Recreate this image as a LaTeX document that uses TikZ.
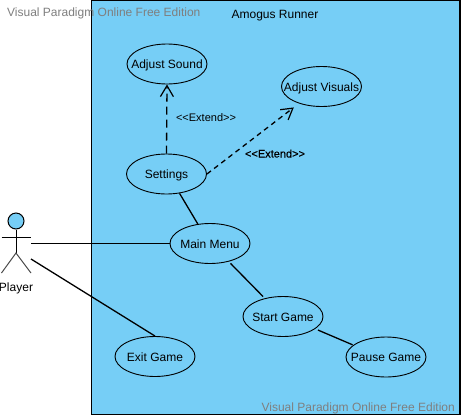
\documentclass[tikz,border=0pt]{standalone}
\usepackage{fontspec}
\setmainfont{Liberation Sans}
\newfontfamily\heavyfont[FakeBold=0.6]{Liberation Sans}
\usetikzlibrary{shapes.geometric,arrows.meta}
\definecolor{sysblue}{HTML}{76CEF6}
\definecolor{wmgray}{HTML}{7F7F7F}
\tikzset{
  usecase/.style={ellipse,draw=black,line width=0.9pt,fill=sysblue,minimum width=80pt,minimum height=40pt,inner sep=-30pt,text height=9pt,text depth=0pt,font=\fontsize{12}{14}\selectfont},
  plainlabel/.style={inner sep=0pt,text height=9pt,text depth=0pt,font=\fontsize{12}{14}\selectfont},
  assoc/.style={draw=black,line width=1.3pt},
  extendline/.style={draw=black,line width=1.3pt,-{Straight Barb[length=11pt,width=13pt,line width=1.2pt]}},
  stereo/.style={font=\fontsize{11}{13}\selectfont,inner sep=0pt,text height=8pt,text depth=0pt},
  watermark/.style={font=\fontsize{12}{14}\selectfont,text=wmgray,inner sep=0pt,text height=9pt,text depth=0pt},
  actorline/.style={draw=black,line width=1pt}
}
\begin{document}
\begin{tikzpicture}[x=1pt,y=-1pt]
\useasboundingbox (0,0) rectangle (461,416);
\fill[white] (0,0) rectangle (461,416);
\draw[black,line width=1.1pt,fill=sysblue] (91.5,0.5) rectangle (460,414.5);
\node[plainlabel] (title) at (275,13.8) {Amogus Runner};
\node[usecase] (sound) at (167,64) {Adjust Sound};
\node[usecase] (visuals) at (321.5,86.5) {Adjust Visuals};
\node[usecase] (settings) at (166.5,174) {Settings};
\node[usecase] (mainmenu) at (210,243.5) {Main Menu};
\node[usecase] (start) at (283,316.5) {Start Game};
\node[usecase] (pause) at (386,357) {Pause Game};
\node[usecase] (exit) at (155,356.5) {Exit Game};
% actor
\node[circle,draw=black,line width=1pt,fill=sysblue,minimum size=16pt,inner sep=0pt] (head) at (16,221) {};
\coordinate (hip) at (16,253);
\coordinate (armL) at (1.5,237);
\coordinate (armR) at (31,237);
\coordinate (legL) at (1.5,273);
\coordinate (legR) at (31,273);
\coordinate (playerA) at (31,243.5);
\coordinate (playerB) at (31,259);
\draw[actorline] (head.south) -- (hip);
\draw[actorline] (armL) -- (armR);
\draw[actorline,draw=black!70] (legL) -- (hip) -- (legR);
\node[plainlabel] (player) at (16,287.3) {Player};
% associations
\draw[assoc] (playerA) -- (mainmenu.west);
\draw[assoc] (playerB) -- (exit.north);
\draw[assoc] (settings.-56) -- (mainmenu.122);
\draw[assoc,shorten <=2.4pt,shorten >=2.4pt] (mainmenu.-44.3) -- (start.135.7);
\draw[assoc,shorten <=3pt,shorten >=0.7pt] (start.-21.7) -- (pause.160);
% extends
\draw[extendline,dash pattern=on 8pt off 5pt] (settings.north) -- (sound.south);
\draw[extendline,dash pattern=on 5pt off 4pt,shorten >=6.5pt] (settings.east) -- (visuals.-143.3);
\node[stereo] (ext1) at (206,117) {<{}<Extend>{}>};
\node[stereo] (ext2) at (275,153.5) {\heavyfont <{}<Extend>{}>};
% watermarks
\node[watermark,anchor=west] (wm1) at (7,11.5) {Visual Paradigm Online Free Edition};
\node[watermark,anchor=east] (wm2) at (455,406.5) {Visual Paradigm Online Free Edition};
\end{tikzpicture}
\end{document}
